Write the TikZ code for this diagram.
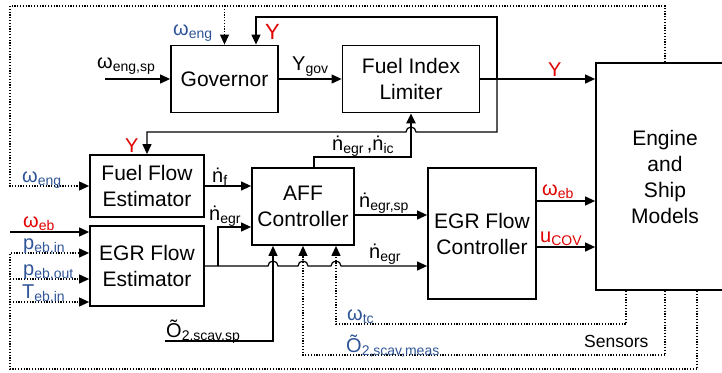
\documentclass[tikz,border=0pt]{standalone}
\usepackage{fontspec}
\setmainfont{Liberation Sans}
\usetikzlibrary{arrows.meta,calc}
\definecolor{sigred}{RGB}{224,0,0}
\definecolor{sigblue}{RGB}{47,85,151}
\newcommand{\sbs}[1]{\raisebox{-3.5pt}{\fontsize{14}{14}\selectfont #1}}
\tikzset{
    >={Triangle[length=10pt,width=9pt]},
    block/.style={draw,line width=1.8pt,align=center,inner sep=0pt,
                  font=\fontsize{21}{26}\selectfont},
    sig/.style={anchor=base west,inner sep=0pt,font=\fontsize{20}{24}\selectfont},
    wire/.style={draw,line width=1.2pt},
    sensor/.style={draw,line width=1.1pt,dash pattern=on 1.2pt off 1.6pt}
}

\begin{document}
\begin{tikzpicture}[x=1pt,y=-1pt]
\useasboundingbox (0,0) rectangle (722,372);

% Blocks
\node[block,minimum width=107pt,minimum height=67pt] (gov) at (224.5,79) {Governor};
\node[block,minimum width=137pt,minimum height=67pt] (fil) at (411,79) {Fuel Index\\Limiter};
\node[block,minimum width=138pt,minimum height=227pt] (eng) at (665,176.5) {Engine\\and\\Ship\\Models};
\node[block,minimum width=114pt,minimum height=62pt] (ffe) at (147,186) {Fuel Flow\\Estimator};
\node[block,minimum width=114pt,minimum height=80pt] (egre) at (147,266) {EGR Flow\\Estimator};
\node[block,minimum width=102pt,minimum height=77pt] (aff) at (303,206.5) {AFF\\Controller};
\node[block,minimum width=108pt,minimum height=131pt] (egrc) at (482,233.5) {EGR Flow\\Controller};

% Points
\coordinate (wspin) at (105,79);
\coordinate (yb) at (497,79);
\coordinate (ytop) at (256,17);
\coordinate (yffe) at (497,132);
\coordinate (topl) at (10,6);
\coordinate (webin) at (10,232);
\coordinate (pinl) at (10,253);
\coordinate (poutl) at (10,279);
\coordinate (tinl) at (10,302);
\coordinate (botl) at (10,369);
\coordinate (s3) at (697,369);
\coordinate (wtc) at (626,324);
\coordinate (o2m) at (664,355);
\coordinate (o2s) at (165,341);
\coordinate (nb) at (218,266);
\coordinate (nup) at (314,157);
\coordinate (a1) at ($(aff.south)+(-30,0)$);
\coordinate (a3) at ($(aff.south)+(33,0)$);
\coordinate (nsp) at ($(aff.east)+(0,8.5)$);
\coordinate (oweb) at ($(egrc.east)+(0,-32.5)$);
\coordinate (oucov) at ($(egrc.east)+(0,13.5)$);

% Fuel path
\draw[wire,->] (wspin) -- (gov.west);
\draw[wire,->] (gov.east) -- (fil.west);
\draw[wire,->] (fil.east) -- (fil.east -| eng.west);
\draw[wire,->] (yb) |- (ytop) -- (ytop |- gov.north);
\draw[wire,->] (yb) -- (yffe) -- ($(yffe -| fil.south)+(5,0)$) arc (0:-180:5)
    -- (yffe -| ffe.north) -- (ffe.north);
\draw[wire,line width=2.2pt,->] (nup |- aff.north) -- (nup) -| (fil.south);

% Estimators and controllers
\draw[wire,->] (ffe.east) -- (ffe.east -| aff.west);
\draw[wire,->] (nb) |- ($(aff.west)+(0,20.5)$);
\draw[wire,->] (egre.east) -- ($(a1 |- egre.east)-(5,0)$) arc (180:360:5)
    -- ($(aff.south |- egre.east)-(5,0)$) arc (180:360:5)
    -- ($(a3 |- egre.east)-(5,0)$) arc (180:360:5)
    -- (egre.east -| egrc.west);
\draw[wire,->] (nsp) -- (nsp -| egrc.west);
\draw[wire,->] (oweb) -- (oweb -| eng.west);
\draw[wire,->] (oucov) -- (oucov -| eng.west);
\draw[wire,->] (webin) -- (webin -| egre.west);
\draw[wire,->] (o2s) -| (a1);

% Sensors
\draw[sensor,->] (eng.north) |- (topl) |- (ffe.west);
\draw[sensor,->] (topl -| gov.north) -- (gov.north);
\draw[sensor,->] (s3 |- eng.south) -- (s3) -- (botl) -- (pinl) -- (pinl -| egre.west);
\draw[sensor,->] (poutl) -- (poutl -| egre.west);
\draw[sensor,->] (tinl) -- (tinl -| egre.west);
\draw[sensor,->] (wtc |- eng.south) |- (a3 |- wtc) -- (a3);
\draw[sensor,->] (eng.south) |- (aff.south |- o2m) -- (aff.south);

% Labels
\node[sig] (lwsp) at (97,68) {ω\sbs{eng,sp}};
\node[sig,text=sigblue] (lweng1) at (173,35) {ω\sbs{eng}};
\node[sig,text=sigred,font=\fontsize{22}{24}\selectfont] (ly1) at (265,39) {Y};
\node[sig] (lygov) at (292,70) {Y\sbs{gov}};
\node[sig,text=sigred] (ly2) at (548,76) {Y};
\node[sig,text=sigred] (ly3) at (125,152) {Y};
\node[sig,text=sigblue] (lweng2) at (22,182) {ω\sbs{eng}};
\node[sig] (lnf) at (212,182) {ṅ\sbs{f}};
\node[sig] (lnegr1) at (209,220) {ṅ\sbs{egr}};
\node[sig,text=sigred] (lweb1) at (23,227) {ω\sbs{eb}};
\node[sig,text=sigblue] (lpin) at (23,249) {p\sbs{eb,in}};
\node[sig,text=sigblue] (lpout) at (23,275) {p\sbs{eb,out}};
\node[sig,text=sigblue] (ltin) at (22,298) {T\sbs{eb,in}};
\node[sig] (lo2sp) at (166,337) {Õ\sbs{2,scav,sp}};
\node[sig] (lnfil) at (332,150) {ṅ\sbs{egr}\,,ṅ\sbs{ic}};
\node[sig] (lnsp) at (359,207) {ṅ\sbs{egr,sp}};
\node[sig] (lnegr2) at (369,258) {ṅ\sbs{egr}};
\node[sig,text=sigred] (lweb2) at (542,195) {ω\sbs{eb}};
\node[sig,text=sigred] (lucov) at (540,242) {u\sbs{COV}};
\node[sig,text=sigblue] (lwtc) at (347,320) {ω\sbs{tc}};
\node[sig,text=sigblue] (lo2m) at (346,352) {Õ\sbs{2,scav,meas}};
\node[sig,font=\fontsize{17.5}{20}\selectfont] (lsens) at (584,347) {Sensors};

\end{tikzpicture}
\end{document}
